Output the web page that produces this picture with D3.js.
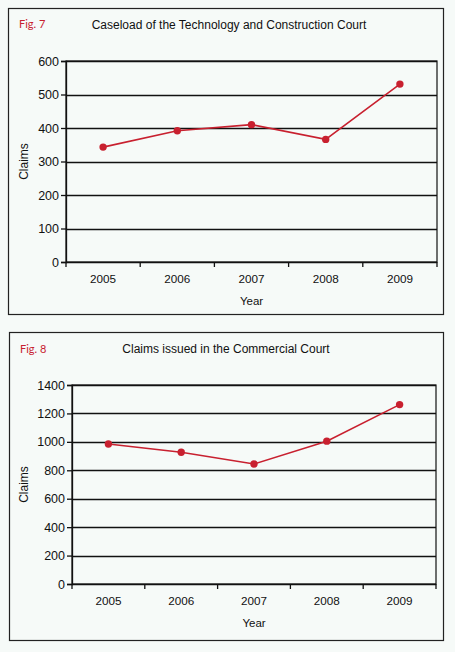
<!DOCTYPE html>
<html><head><meta charset="utf-8">
<script src="https://cdn.jsdelivr.net/npm/d3@7"></script>
<style>
html,body{margin:0;padding:0;background:#f6faf8;}
svg{display:block;}
text{font-family:Arial,"Liberation Sans",sans-serif;fill:#111;}
</style></head>
<body>
<svg id="chart" width="455" height="652"></svg>
<script>
const years = ["2005","2006","2007","2008","2009"];
const tccClaims = [343, 392, 410, 366, 531];
const commClaims = [985, 927, 844, 1005, 1262];
const tccTicks = [0,100,200,300,400,500,600];
const commTicks = [0,200,400,600,800,1000,1200,1400];

const svg = d3.select("#chart");
const red = "#c8202f";
const FONT = "Arial,'Liberation Sans',sans-serif";

function panel(cfg){
  const g = svg.append("g");
  g.append("rect").attr("x",cfg.box[0]+0.5).attr("y",cfg.box[1]+0.5)
    .attr("width",cfg.box[2]-cfg.box[0]).attr("height",cfg.box[3]-cfg.box[1])
    .attr("fill","#f6faf8").attr("stroke","#222").attr("stroke-width",1.2);
  g.append("text").attr("x",cfg.figX).attr("y",cfg.figY).text(cfg.fig)
    .style("font-family","Lato,'Noto Sans',sans-serif").style("font-size","11px").style("fill","#c8202f");
  g.append("text").attr("x",cfg.titleX).attr("y",cfg.titleY).attr("text-anchor","middle")
    .style("font-size","12px").text(cfg.title);

  const x = d3.scaleBand().domain(years).range([cfg.left,cfg.right]);
  const y = d3.scaleLinear().domain([0,cfg.max]).range([cfg.bottom,cfg.top]);

  g.append("rect").attr("x",cfg.left).attr("y",cfg.top).attr("width",cfg.right-cfg.left)
    .attr("height",cfg.bottom-cfg.top).attr("fill","#f6faf8").attr("stroke","#111").attr("stroke-width",1.2);
  g.append("g").selectAll("line").data(cfg.ticks).join("line")
    .attr("x1",cfg.left).attr("x2",cfg.right)
    .attr("y1",d=>Math.round(y(d))+0.5).attr("y2",d=>Math.round(y(d))+0.5)
    .attr("stroke","#111").attr("stroke-width",1.3);

  const ya = g.append("g").attr("transform",`translate(${cfg.left},0)`)
    .call(d3.axisLeft(y).tickValues(cfg.ticks).tickSize(5).tickPadding(2).tickFormat(d3.format("d")));
  ya.select(".domain").attr("stroke","#111").attr("stroke-width",1.3);
  ya.selectAll("line").attr("stroke","#111").attr("stroke-width",1.3);
  ya.selectAll("text").style("font-size","12.5px").style("fill","#111").style("font-family",FONT);

  const xa = g.append("g").attr("transform",`translate(0,${cfg.bottom})`)
    .call(d3.axisBottom(x).tickSize(0).tickPadding(cfg.xPad));
  xa.select(".domain").remove();
  xa.selectAll("text").style("font-size","11.7px").style("fill","#111").style("font-family",FONT);
  const bounds = years.map(d=>x(d)).concat([cfg.right]);
  g.append("g").selectAll("line").data(bounds).join("line")
    .attr("x1",d=>d).attr("x2",d=>d).attr("y1",cfg.bottom).attr("y2",cfg.bottom+5)
    .attr("stroke","#111").attr("stroke-width",1.3);

  g.append("text").attr("x",(cfg.left+cfg.right)/2).attr("y",cfg.yearY).attr("text-anchor","middle")
    .style("font-size","11.5px").text("Year");
  g.append("text").attr("transform",`translate(${cfg.claimsX},${(cfg.top+cfg.bottom)/2}) rotate(-90)`)
    .attr("text-anchor","middle").style("font-size","12px").text("Claims");

  const line = d3.line().x((d,i)=>x(years[i])+x.bandwidth()/2).y(d=>y(d));
  g.append("path").datum(cfg.values).attr("d",line).attr("fill","none")
    .attr("stroke",red).attr("stroke-width",1.6);
  g.append("g").selectAll("circle").data(cfg.values).join("circle")
    .attr("cx",(d,i)=>x(years[i])+x.bandwidth()/2).attr("cy",d=>y(d)).attr("r",3.7).attr("fill",red);
}

panel({box:[8,8,443,314], fig:"Fig. 7", figX:19, figY:28, title:"Caseload of the Technology and Construction Court",
  titleX:229, titleY:29, left:66, right:437, top:61, bottom:262, max:600, ticks:tccTicks, values:tccClaims,
  xPad:13, yearY:305, claimsX:28});
panel({box:[9,332,443,640], fig:"Fig. 8", figX:20, figY:353, title:"Claims issued in the Commercial Court",
  titleX:226, titleY:353, left:72, right:436, top:385, bottom:584, max:1400, ticks:commTicks, values:commClaims,
  xPad:13, yearY:627, claimsX:28});
</script>
</body></html>
